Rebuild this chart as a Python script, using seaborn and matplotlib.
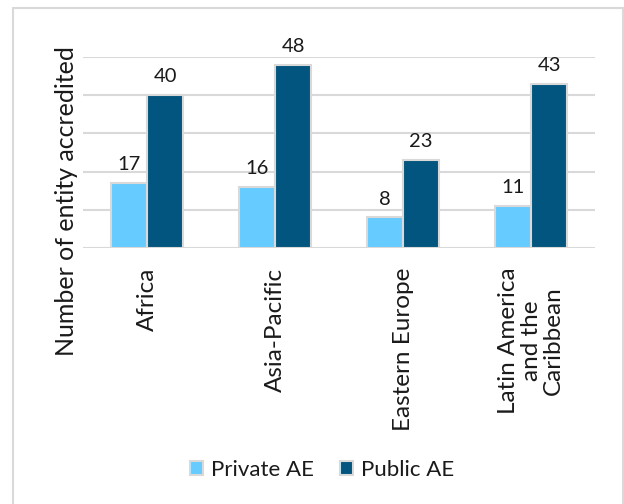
import pandas as pd
import seaborn as sns
import matplotlib.pyplot as plt
from matplotlib.patches import Rectangle

# Dados
regions = ["Africa", "Asia-Pacific", "Eastern Europe", "Latin America\nand the\nCaribbean"]
private_ae = [17, 16, 8, 11]
public_ae = [40, 48, 23, 43]
series = ["Private AE", "Public AE"]
colors = ["#66CCFF", "#02557F"]

df = pd.DataFrame({
    "region": regions * 2,
    "count": private_ae + public_ae,
    "type": [series[0]] * len(regions) + [series[1]] * len(regions),
})

sns.set_theme(style="white")
plt.rcParams["font.family"] = ["Lato", "DejaVu Sans"]
text_color = "#1a1a1a"
grid_color = "#D9D9D9"

fig = plt.figure(figsize=(6.24, 5.04), dpi=100)
ax = fig.add_axes([83 / 624, 1 - 248 / 504, 512 / 624, 191 / 504])

sns.barplot(data=df, x="region", y="count", hue="type", palette=colors,
            saturation=1, edgecolor=grid_color, linewidth=1.5, width=0.57, ax=ax)

for cont in ax.containers:
    ax.bar_label(cont, padding=7, fontsize=14.5, color=text_color)

# Eixos
ax.set_ylim(0, 50)
ax.set_yticks([0, 10, 20, 30, 40, 50])
ax.set_yticklabels([])
ax.yaxis.grid(True, color=grid_color, linewidth=1.5)
ax.set_axisbelow(True)
ax.tick_params(axis="both", length=0)
ax.tick_params(axis="x", pad=14, labelsize=17.5, labelcolor=text_color)
for lab in ax.get_xticklabels():
    lab.set_rotation(90)
    lab.set_multialignment("center")
    lab.set_linespacing(1.1)
ax.set_xlabel("")
ax.set_ylabel("")
for s in ax.spines.values():
    s.set_visible(False)

fig.text(67 / 624, 1 - 201 / 504, "Number of entity accredited", rotation=90,
         ha="center", va="center", fontsize=18, color=text_color)

# Legenda
handles, labels = ax.get_legend_handles_labels()
ax.legend_.remove()
fig.legend(handles, labels, loc="center", bbox_to_anchor=(322 / 624, 1 - 470 / 504),
           ncol=2, frameon=False, fontsize=16, handlelength=0.6, handleheight=0.6,
           handletextpad=0.35, columnspacing=1.15, labelcolor=text_color)

# Moldura
fig.patches.append(Rectangle((13 / 624, -0.05), 610 / 624, 1.05 - 8 / 504,
                             transform=fig.transFigure, fill=False,
                             edgecolor=grid_color, linewidth=1.5))

fig.savefig("out.png", dpi=100)
